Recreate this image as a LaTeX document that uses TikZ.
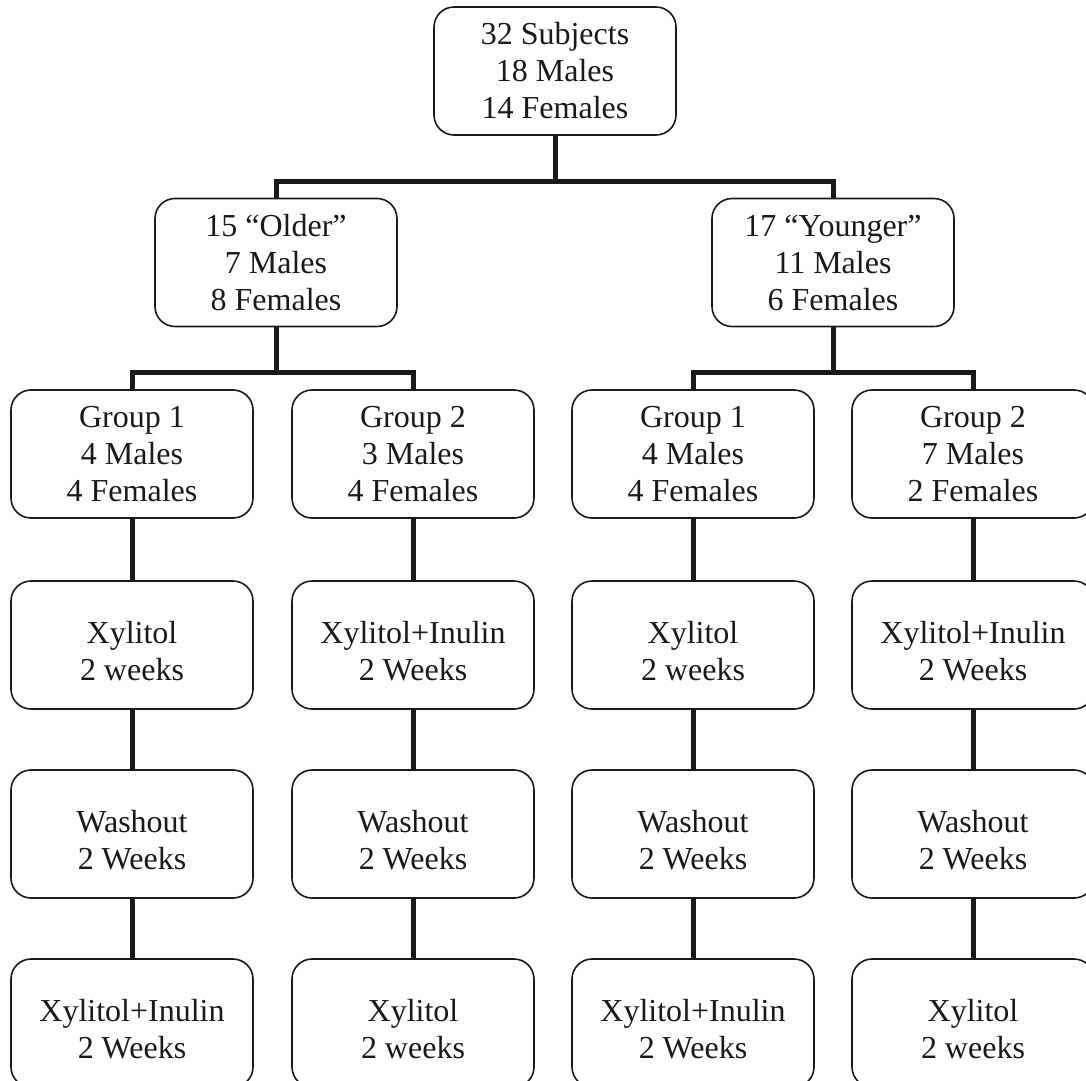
\documentclass[tikz,border=0pt]{standalone}
\usepackage{fontspec}
\setmainfont{Liberation Serif}
\newcommand{\hstrut}{\rule{0pt}{35pt}}
\begin{document}
\begin{tikzpicture}[x=1pt,y=-1pt,
  box/.style={draw=black!90, line width=1.6pt, rounded corners=20pt,
    minimum width=242pt, minimum height=128pt, inner sep=0pt,
    align=center, text=black!90, font=\fontsize{32}{37}\selectfont},
  conn/.style={draw=black!90, line width=5pt, line join=miter}]
\useasboundingbox (0,0) rectangle (1086,1080);
\clip (0,0) rectangle (1086,1080);

% level 1
\node[box] (top) at (555,71) {32 Subjects\\18 Males\\14 Females};
% level 2
\node[box] (older) at (276,262.5) {15 “Older”\\7 Males\\8 Females};
\node[box] (younger) at (833,262.5) {17 “Younger”\\11 Males\\6 Females};
% level 3
\node[box] (og1) at (132,454) {Group 1\\4 Males\\4 Females};
\node[box] (og2) at (413,454) {Group 2\\3 Males\\4 Females};
\node[box] (yg1) at (693,454) {Group 1\\4 Males\\4 Females};
\node[box] (yg2) at (973,454) {Group 2\\7 Males\\2 Females};
% level 4
\node[box] (o1a) at (132,645) {\hstrut Xylitol\\2 weeks};
\node[box] (o2a) at (413,645) {\hstrut Xylitol+Inulin\\2 Weeks};
\node[box] (y1a) at (693,645) {\hstrut Xylitol\\2 weeks};
\node[box] (y2a) at (973,645) {\hstrut Xylitol+Inulin\\2 Weeks};
% level 5
\node[box] (o1w) at (132,834) {\hstrut Washout\\2 Weeks};
\node[box] (o2w) at (413,834) {\hstrut Washout\\2 Weeks};
\node[box] (y1w) at (693,834) {\hstrut Washout\\2 Weeks};
\node[box] (y2w) at (973,834) {\hstrut Washout\\2 Weeks};
% level 6
\node[box] (o1b) at (132,1023) {\hstrut Xylitol+Inulin\\2 Weeks};
\node[box] (o2b) at (413,1023) {\hstrut Xylitol\\2 weeks};
\node[box] (y1b) at (693,1023) {\hstrut Xylitol+Inulin\\2 Weeks};
\node[box] (y2b) at (973,1023) {\hstrut Xylitol\\2 weeks};

% junctions
\coordinate (j0) at (555,181);
\coordinate (jo) at (276,372);
\coordinate (jy) at (833,372);

% connectors
\draw[conn] (top.south) -- (j0);
\draw[conn] (older.north) |- (j0) -| (younger.north);
\draw[conn] (older.south) -- (jo);
\draw[conn] (og1.north) |- (jo) -| (og2.north);
\draw[conn] (younger.south) -- (jy);
\draw[conn] (yg1.north) |- (jy) -| (yg2.north);

\foreach \a/\b in {og1/o1a, og2/o2a, yg1/y1a, yg2/y2a,
                o1a/o1w, o2a/o2w, y1a/y1w, y2a/y2w,
                o1w/o1b, o2w/o2b, y1w/y1b, y2w/y2b}
  \draw[conn] (\a.south) -- (\b.north);
\end{tikzpicture}
\end{document}
